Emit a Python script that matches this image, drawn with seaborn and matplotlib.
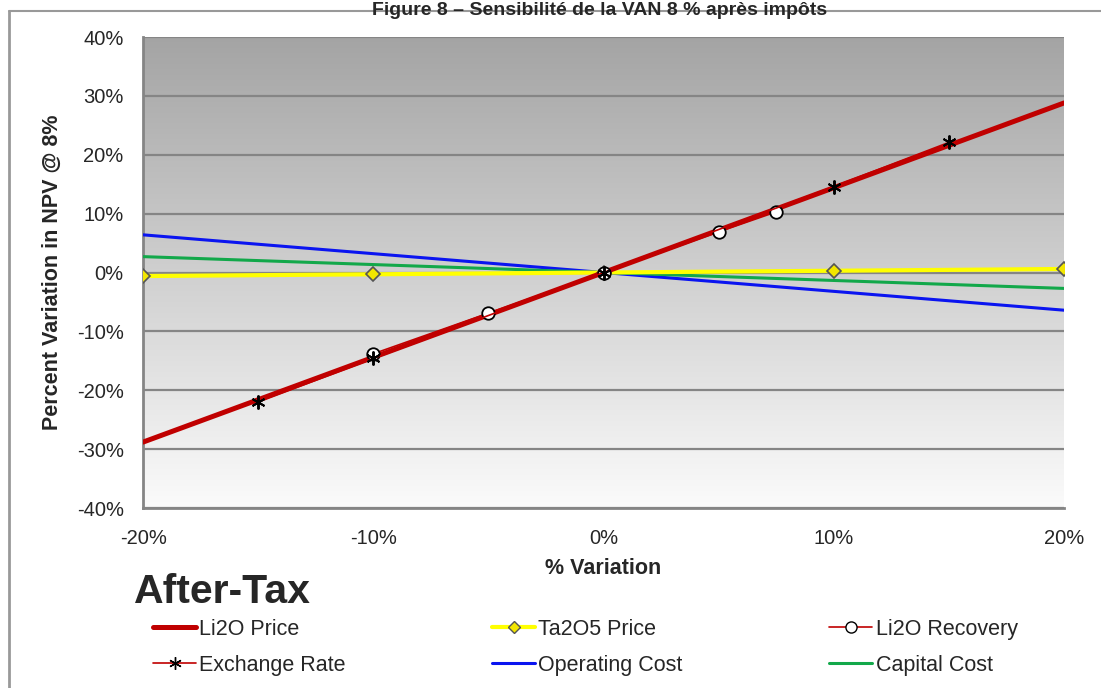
import numpy as np
import pandas as pd
import matplotlib
matplotlib.use("Agg")
import matplotlib.pyplot as plt
import seaborn as sns
from matplotlib.lines import Line2D

# sensitivity data (% variation -> % variation of NPV @ 8%)
li2o_price_x = [-20, -10, 0, 10, 20]
li2o_price_y = [-28.8, -14.4, 0.0, 14.4, 28.8]
ta2o5_x = [-20, -10, 0, 10, 20]
ta2o5_y = [-0.6, -0.3, 0.0, 0.3, 0.6]
recovery_x = [-10, -5, 0, 5, 7.5]
recovery_y = [-13.8, -6.9, 0.0, 6.9, 10.3]
exchange_x = [-15, -10, 0, 10, 15]
exchange_y = [-22.0, -14.6, 0.0, 14.6, 22.1]
opex_x = [-20, 0, 20]
opex_y = [6.4, 0.0, -6.4]
capex_x = [-20, 0, 20]
capex_y = [2.7, 0.0, -2.7]

y_ticks = [-40, -30, -20, -10, 0, 10, 20, 30, 40]
x_ticks = [-20, -10, 0, 10, 20]

sns.set_style("white")
plt.rcParams['font.family'] = ['Liberation Sans', 'DejaVu Sans']

fig = plt.figure(figsize=(11.01, 6.88), dpi=100)
ax = fig.add_axes([0.130, 0.2616, 0.8364, 0.6846])

# gradient background, dark on top
grad = np.linspace(0, 1, 256).reshape(-1, 1)
cmap = matplotlib.colors.LinearSegmentedColormap.from_list("bg", ["#fbfbfb", "#a4a4a4"])
ax.imshow(grad, extent=[-20, 20, -40, 40], origin="lower", aspect="auto", cmap=cmap, zorder=0)

for t in y_ticks:
    ax.axhline(t, color="#858585", lw=1.6, zorder=1)

sns.lineplot(x=opex_x, y=opex_y, ax=ax, color="#0a14f0", lw=2.2, zorder=3)
sns.lineplot(x=capex_x, y=capex_y, ax=ax, color="#12a84a", lw=2.2, zorder=3)
sns.lineplot(x=ta2o5_x, y=ta2o5_y, ax=ax, color="#ffff00", lw=3, marker="D", markersize=7,
             markerfacecolor="#f2e600", markeredgecolor="#555555", markeredgewidth=1.2, zorder=4)
sns.lineplot(x=li2o_price_x, y=li2o_price_y, ax=ax, color="#c00000", lw=3.6, zorder=5)
sns.lineplot(x=recovery_x, y=recovery_y, ax=ax, color="#c00000", lw=1.2, marker="o", markersize=9,
             markerfacecolor="white", markeredgecolor="black", markeredgewidth=1.3, zorder=6)
sns.lineplot(x=exchange_x, y=exchange_y, ax=ax, color="#c00000", lw=1.2, marker=(6, 2, 0), markersize=10,
             markeredgecolor="black", markeredgewidth=1.4, zorder=6)

ax.set_xlim(-20, 20)
ax.set_ylim(-40, 40)
ax.set_xticks(x_ticks)
ax.set_yticks(y_ticks)
ax.set_xticklabels([f"{t}%" for t in x_ticks], fontsize=14.5)
ax.set_yticklabels([f"{t}%" for t in y_ticks], fontsize=14.5)
ax.tick_params(axis="both", direction="out", length=6, width=1.5, color="#858585", pad=8)
ax.tick_params(axis="x", pad=9)
for s in ["top", "right"]:
    ax.spines[s].set_visible(False)
for s in ["left", "bottom"]:
    ax.spines[s].set_color("#858585")
    ax.spines[s].set_linewidth(2)
    ax.spines[s].set_zorder(2)

ax.set_xlabel("% Variation", fontsize=15.5, fontweight="bold", labelpad=7)
ax.set_ylabel("Percent Variation in NPV @ 8%", fontsize=15.5, fontweight="bold", labelpad=10)

fig.text(0.545, 0.997, "Figure 8 \u2013 Sensibilité de la VAN 8 % après impôts", ha="center", va="top",
         fontsize=14, fontweight="bold")
fig.add_artist(Line2D([0.008, 1.0], [0.984, 0.984], transform=fig.transFigure, color="#999999", lw=1.5))
fig.add_artist(Line2D([0.008, 0.008], [0.0, 0.984], transform=fig.transFigure, color="#999999", lw=2))

fig.text(0.122, 0.124, "After-Tax", fontsize=29.5, fontweight="bold", ha="left", va="baseline")

handles = [
    Line2D([], [], color="#c00000", lw=3.6),
    Line2D([], [], color="#c00000", lw=1.2, marker=(6, 2, 0), markersize=9, markeredgecolor="black"),
    Line2D([], [], color="#ffff00", lw=3, marker="D", markersize=6, markerfacecolor="#f2e600",
           markeredgecolor="#555555"),
    Line2D([], [], color="#0a14f0", lw=2.2),
    Line2D([], [], color="#c00000", lw=1.2, marker="o", markersize=8, markerfacecolor="white",
           markeredgecolor="black"),
    Line2D([], [], color="#12a84a", lw=2.2),
]
labels = ["Li2O Price", "Exchange Rate", "Ta2O5 Price", "Operating Cost", "Li2O Recovery", "Capital Cost"]
fig.legend(handles, labels, ncol=3, loc="upper left", bbox_to_anchor=(0.139, 0.101), frameon=False,
           fontsize=15.5, handlelength=2.0, handletextpad=0.15, columnspacing=6.8, labelspacing=0.7,
           borderaxespad=0, borderpad=0)

fig.savefig("out.png", dpi=100)
